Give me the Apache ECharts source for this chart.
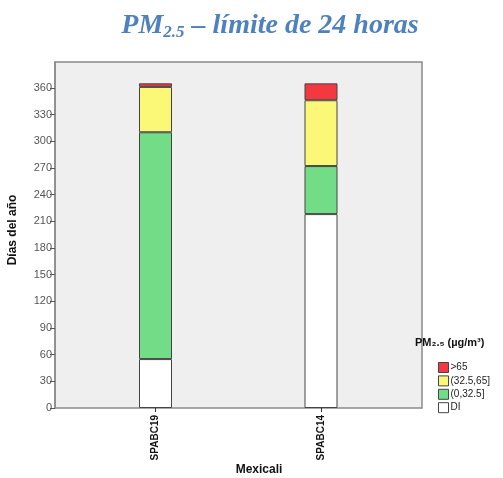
<!DOCTYPE html>
<html><head><meta charset="utf-8">
<script src="https://cdn.jsdelivr.net/npm/echarts@6/dist/echarts.min.js"></script>
<style>html,body{margin:0;padding:0;background:#fff}#c{width:503px;height:478px}</style>
</head><body><div id="c"></div>
<script>
const stations = ['SPABC19', 'SPABC14'];
const seriesNames = ['DI', '(0,32.5]', '(32.5,65]', '>65'];
const valDI = [55, 218];
const valLow = [255, 54];
const valMid = [51, 74];
const valHigh = [4, 19];
const yTicks = [0, 30, 60, 90, 120, 150, 180, 210, 240, 270, 300, 330, 360];
const colors = ['#ffffff', '#72dd86', '#fbf877', '#f3383f'];

const chart = echarts.init(document.getElementById('c'), null, {renderer: 'canvas'});
const values = [valDI, valLow, valMid, valHigh];
const series = seriesNames.map((n, i) => ({
  name: n, type: 'bar', stack: 'a', barWidth: 33, data: values[i],
  itemStyle: {color: colors[i], borderColor: '#444', borderWidth: 1},
  emphasis: {disabled: true}
}));
chart.setOption({
  animation: false,
  title: {
    text: '{m|PM}{s|2.5}{m| – límite de 24 horas}',
    left: 265, top: 6, textAlign: 'center',
    textStyle: {
      rich: {
        m: {fontFamily: 'Liberation Serif', fontStyle: 'italic', fontWeight: 'bold', fontSize: 28, color: '#4f81bd'},
        s: {fontFamily: 'Liberation Serif', fontStyle: 'italic', fontWeight: 'bold', fontSize: 17, color: '#4f81bd', padding: [13, 0, 0, 0]}
      }
    }
  },
  graphic: [
    {type: 'rect', shape: {x: 55, y: 62, width: 367, height: 346}, style: {fill: '#efefef', stroke: '#8a8a8a', lineWidth: 1.5}, z: -10, silent: true},
    {type: 'text', x: 13, y: 230, rotation: Math.PI / 2, style: {text: 'Días del año', font: 'bold 12px "Liberation Sans"', fill: '#111', align: 'center', verticalAlign: 'middle'}},
    {type: 'text', x: 259, y: 470, style: {text: 'Mexicali', font: 'bold 12px "Liberation Sans"', fill: '#111', align: 'center', verticalAlign: 'middle'}},
    {type: 'text', x: 415, y: 343, style: {text: 'PM₂.₅ (µg/m³)', font: 'bold 11px "Liberation Sans"', fill: '#111', align: 'left', verticalAlign: 'middle'}}
  ],
  legend: {
    data: ['>65', '(32.5,65]', '(0,32.5]', 'DI'],
    orient: 'vertical', left: 433, top: 357,
    itemWidth: 10, itemHeight: 10, itemGap: 2.4,
    icon: 'rect',
    textStyle: {fontFamily: 'Liberation Sans', fontSize: 10, color: '#222', padding: [0, 0, 0, -3]},
    itemStyle: {borderColor: '#444', borderWidth: 1},
    selectedMode: false
  },
  grid: {left: 72.75, right: 99.25, top: 62, bottom: 70},
  xAxis: {
    type: 'category', data: stations,
    axisLine: {show: false},
    axisTick: {show: true, alignWithLabel: true, length: 4, lineStyle: {color: '#333'}},
    axisLabel: {rotate: 90, fontFamily: 'Liberation Sans', fontWeight: 'bold', fontSize: 10, color: '#111', margin: 7}
  },
  yAxis: {
    type: 'value', min: 0, max: 389, interval: 30, offset: 17.75,
    axisLine: {show: true, lineStyle: {color: '#8a8a8a', width: 1.5}},
    axisTick: {show: true, length: 5, lineStyle: {color: '#555'}},
    axisLabel: {fontFamily: 'Liberation Sans', fontSize: 11, color: '#555', margin: 3, showMaxLabel: false,
      formatter: v => yTicks.includes(v) ? String(v) : ''},
    splitLine: {show: false}
  },
  series: series
});
</script></body></html>
